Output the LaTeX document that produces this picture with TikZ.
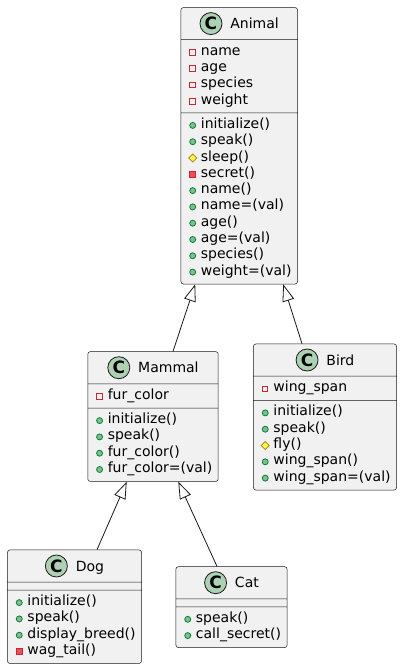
\documentclass[tikz,border=0pt]{standalone}
\usepackage{fontspec}
\setmainfont{DejaVu Sans}
\usetikzlibrary{positioning,calc,shapes.multipart,arrows.meta}
\definecolor{BoxFill}{HTML}{F1F1F1}
\definecolor{BoxLine}{HTML}{181818}
\definecolor{BadgeFill}{HTML}{ADD1B2}
\definecolor{PrivLine}{HTML}{C82930}
\definecolor{PrivFill}{HTML}{F24D5C}
\definecolor{PubLine}{HTML}{038048}
\definecolor{PubFill}{HTML}{84BE84}
\definecolor{ProtLine}{HTML}{B38D22}
\definecolor{ProtFill}{HTML}{FFFF44}
\tikzset{%
  umlclass/.style={%
    draw=BoxLine, fill=BoxFill, line width=0.5pt, rounded corners=2.5pt,
    shape=rectangle split, rectangle split parts=3,
    rectangle split part align={center,left,left},
    inner xsep=6pt, inner ysep=3.8pt, anchor=north,
    font=\fontsize{14pt}{16.3pt}\selectfont
  },
  badge/.style={%
    shape=circle, anchor=center, draw=BoxLine, fill=BadgeFill, line width=0.8pt,
    sharp corners, minimum size=22pt, inner sep=0pt,
    font=\fontsize{17pt}{17pt}\selectfont\bfseries
  },
  icon/.style={sharp corners, line width=0.8pt},
  extends/.style={%
    draw=BoxLine, line width=0.8pt,
    -{Triangle[length=17pt,width=12pt,fill=white]}
  },
}
% member icons
\newcommand{\iconslot}[2][2.4pt]{\makebox[14pt][l]{\hspace{#1}#2}}
\newcommand{\privattr}[1]{\iconslot{\tikz[baseline=0pt]\draw[icon,draw=PrivLine,fill=none] (0,0) rectangle (5.6pt,5.6pt);}#1}
\newcommand{\privmeth}[1]{\iconslot{\tikz[baseline=0pt]\draw[icon,draw=PrivLine,fill=PrivFill] (0,0) rectangle (6pt,6pt);}#1}
\newcommand{\pubmeth}[1]{\iconslot{\tikz[baseline=-3pt]\draw[icon,draw=PubLine,fill=PubFill] (0,0) circle (3pt);}#1}
\newcommand{\protmeth}[1]{\iconslot[1.4pt]{\tikz[baseline=-3pt]\draw[icon,draw=ProtLine,fill=ProtFill] (-4pt,0) -- (0,4pt) -- (4pt,0) -- (0,-4pt) -- cycle;}#1}
\newcommand{\classhead}[1]{\tikz[baseline=-5.1pt]\node[badge] at (0,0) {C};\hspace{8pt}#1\rule[-6.9pt]{0pt}{24pt}}
\newcommand{\members}[1]{\begin{tabular}{@{}l@{}}#1\end{tabular}}
\newcommand{\nomembers}{\raisebox{0pt}[0pt][0pt]{\hspace*{0.1pt}}}

\begin{document}
\begin{tikzpicture}
    \useasboundingbox (0,0) rectangle (402pt,-668pt);

    \node (Animal) [umlclass] at (239.2pt,-7.3pt) {
        \classhead{Animal}
        \nodepart{two} \members{\privattr{name}\\ \privattr{age}\\ \privattr{species}\\ \privattr{weight}}
        \nodepart{three} \members{\pubmeth{initialize()}\\ \pubmeth{speak()}\\ \protmeth{sleep()}\\
            \privmeth{secret()}\\ \pubmeth{name()}\\ \pubmeth{name=(val)}\\ \pubmeth{age()}\\
            \pubmeth{age=(val)}\\ \pubmeth{species()}\\ \pubmeth{weight=(val)}}
    };
    \node (Mammal) [umlclass, below=67.1pt of Animal, xshift=-86.2pt] {
        \classhead{Mammal}
        \nodepart{two} \members{\privattr{fur\_color}}
        \nodepart{three} \members{\pubmeth{initialize()}\\ \pubmeth{speak()}\\ \pubmeth{fur\_color()}\\
            \pubmeth{fur\_color=(val)}}
    };
    \node (Bird) [umlclass, below=59.4pt of Animal, xshift=85.8pt] {
        \classhead{Bird}
        \nodepart{two} \members{\privattr{wing\_span}}
        \nodepart{three} \members{\pubmeth{initialize()}\\ \pubmeth{speak()}\\ \protmeth{fly()}\\
            \pubmeth{wing\_span()}\\ \pubmeth{wing\_span=(val)}}
    };
    \node (Dog) [umlclass, below=68pt of Mammal, xshift=-78.5pt] {
        \classhead{Dog}
        \nodepart{two} \nomembers
        \nodepart{three} \members{\pubmeth{initialize()}\\ \pubmeth{speak()}\\ \pubmeth{display\_breed()}\\
            \privmeth{wag\_tail()}}
    };
    \node (Cat) [umlclass, below=84.7pt of Mammal, xshift=78.5pt] {
        \classhead{Cat}
        \nodepart{two} \nomembers
        \nodepart{three} \members{\pubmeth{speak()}\\ \pubmeth{call\_secret()}}
    };

    \draw[extends] ($(Mammal.north)+(20pt,0)$) -- ($(Animal.south)+(-44pt,0)$);
    \draw[extends] ($(Bird.north)+(-23pt,0)$) -- ($(Animal.south)+(44pt,0)$);
    \draw[extends] ($(Dog.north)+(22.5pt,0)$) -- ($(Mammal.south)+(-26.3pt,0)$);
    \draw[extends] ($(Cat.north)+(-14.5pt,0)$) -- ($(Mammal.south)+(25.3pt,0)$);
\end{tikzpicture}
\end{document}
